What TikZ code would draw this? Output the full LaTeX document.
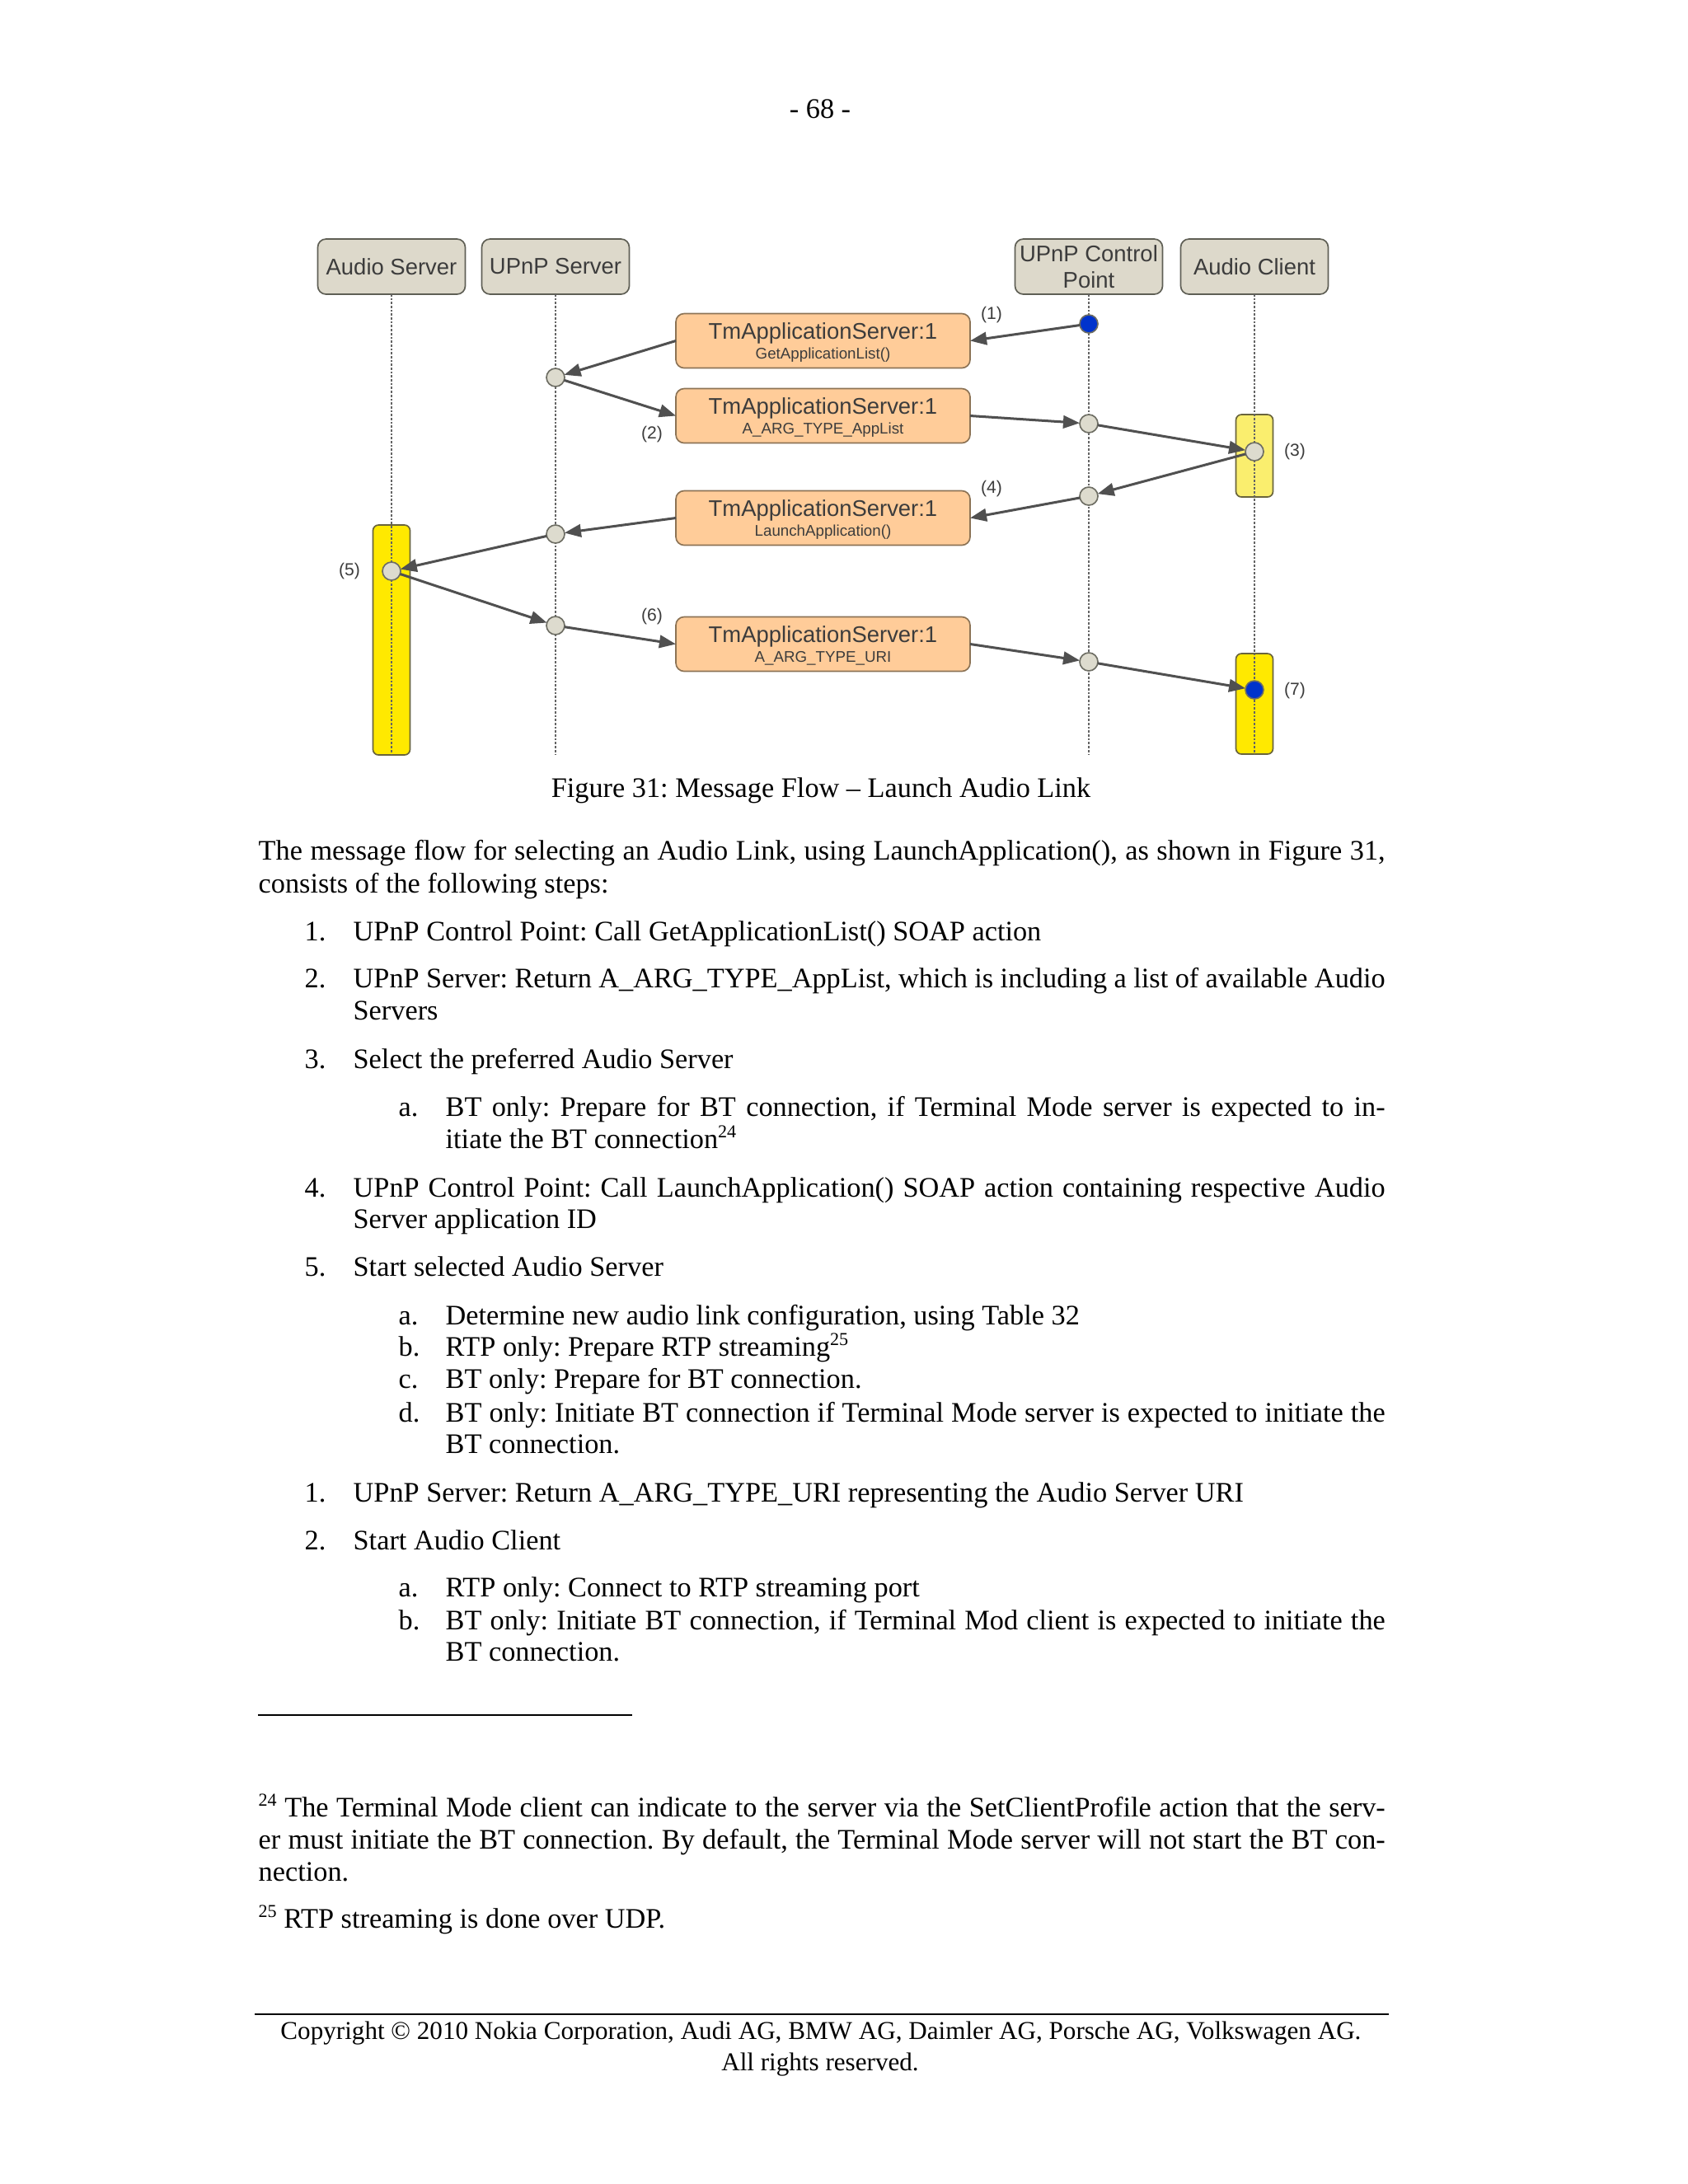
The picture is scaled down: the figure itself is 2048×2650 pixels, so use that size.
\documentclass[tikz,border=0pt]{standalone}
\usepackage{fontspec}
\setmainfont{Liberation Serif}
\newfontfamily\diagfont{Liberation Sans}
\usetikzlibrary{arrows.meta,calc}
\newlength\pxu
\setlength\pxu{0.298828pt}
\newcommand{\fnsup}[1]{\raisebox{0.36em}{\fontsize{6.6}{7}\selectfont #1}}
\definecolor{hdrfill}{RGB}{221,217,203}
\definecolor{hdrdraw}{RGB}{95,95,85}
\definecolor{orfill}{RGB}{255,204,153}
\definecolor{ordraw}{RGB}{140,115,85}
\definecolor{dtext}{RGB}{60,60,60}
\definecolor{arrowc}{RGB}{80,80,80}
\definecolor{circfill}{RGB}{221,219,206}
\definecolor{circdraw}{RGB}{110,110,100}
\definecolor{yelA}{RGB}{255,233,0}
\definecolor{yelB}{RGB}{250,238,110}
\definecolor{actdraw}{RGB}{105,100,60}
\definecolor{bluedot}{RGB}{0,51,204}
\definecolor{lifec}{RGB}{100,100,100}
\tikzset{
  hdr/.style={draw=hdrdraw, fill=hdrfill, rounded corners=3pt, line width=0.5pt,
    minimum width=179\pxu, minimum height=67\pxu, inner sep=0pt, outer sep=0pt,
    align=center, text=dtext, font=\diagfont\fontsize{8.2}{9.6}\selectfont},
  obox/.style={draw=ordraw, fill=orfill, rounded corners=3pt, line width=0.5pt,
    minimum width=357\pxu, minimum height=66\pxu, inner sep=0pt, outer sep=0pt},
  mtxt/.style={anchor=base, inner sep=0pt, text=dtext, font=\diagfont\fontsize{8.2}{9.6}\selectfont},
  stxt/.style={anchor=base, inner sep=0pt, text=dtext, font=\diagfont\fontsize{5.6}{6.5}\selectfont},
  numlbl/.style={inner sep=0pt, text=dtext, font=\diagfont\fontsize{6.3}{7}\selectfont},
  actbar/.style={draw=actdraw, rounded corners=2pt, line width=0.5pt,
    minimum width=45\pxu, inner sep=0pt, outer sep=0pt},
  lifeline/.style={draw=lifec, line width=0.4pt, dash pattern=on 0.8pt off 0.6pt},
  gcirc/.style={circle, draw=circdraw, fill=circfill, line width=0.5pt,
    minimum size=22\pxu, inner sep=0pt, outer sep=0pt},
  bcirc/.style={circle, draw=circdraw, fill=bluedot, line width=0.5pt,
    minimum size=22\pxu, inner sep=0pt, outer sep=0pt},
  msg/.style={draw=arrowc, line width=0.9pt, -{Triangle[length=6pt,width=4.6pt]}},
  btxt/.style={anchor=base west, inner sep=0pt, font=\fontsize{10.25}{11.8}\selectfont\frenchspacing},
  ctxt/.style={anchor=base, inner sep=0pt, font=\fontsize{10.25}{11.8}\selectfont\frenchspacing},
  foottxt/.style={anchor=base, inner sep=0pt, font=\fontsize{9.3}{11}\selectfont\frenchspacing}
}
\begin{document}
\begin{tikzpicture}[x=0.298828pt,y=-0.298828pt]
\path[use as bounding box, fill=white] (0,0) rectangle (2048,2650);

% page number
\node[ctxt] (pnum) at (995,143) {- 68 -};

% headers
\node[hdr] (h1) at (475,323.5) {Audio Server};
\node[hdr] (h2) at (674,323.5) {UPnP Server};
\node[hdr] (h3) at (1321,323.5) {UPnP Control\\Point};
\node[hdr] (h4) at (1522,323.5) {Audio Client};
\coordinate (bot) at (0,915);

% activation bars
\node[actbar, fill=yelA, minimum height=279\pxu] (act1) at (475,776.5) {};
\node[actbar, fill=yelB, minimum height=100\pxu] (act2) at (1522,553) {};
\node[actbar, fill=yelA, minimum height=122\pxu] (act3) at (1522,854) {};

% lifelines
\draw[lifeline] (h1.south) -- (h1.south |- bot);
\draw[lifeline] (h2.south) -- (h2.south |- bot);
\draw[lifeline] (h3.south) -- (h3.south |- bot);
\draw[lifeline] (h4.south) -- (h4.south |- bot);

% circles
\node[bcirc] (d1) at (1321,393) {};
\node[gcirc] (u1) at (674,458) {};
\node[gcirc] (c1) at (1321,514) {};
\node[gcirc] (a1) at (1522,548) {};
\node[gcirc] (c2) at (1321,602) {};
\node[gcirc] (u2) at (674,648) {};
\node[gcirc] (s1) at (475,693) {};
\node[gcirc] (u3) at (674,759) {};
\node[gcirc] (c3) at (1321,803) {};
\node[bcirc] (a2) at (1522,837) {};

% message boxes
\node[obox] (m1) at (998.5,413.5) {};
\node[mtxt] (m1t) at ($(m1.center)+(0,-2)$) {TmApplicationServer:1};
\node[stxt] (m1s) at ($(m1.center)+(0,22)$) {GetApplicationList()};
\node[obox] (m2) at (998.5,504.5) {};
\node[mtxt] (m2t) at ($(m2.center)+(0,-2)$) {TmApplicationServer:1};
\node[stxt] (m2s) at ($(m2.center)+(0,22)$) {A\_ARG\_TYPE\_AppList};
\node[obox] (m3) at (998.5,628.5) {};
\node[mtxt] (m3t) at ($(m3.center)+(0,-2)$) {TmApplicationServer:1};
\node[stxt] (m3s) at ($(m3.center)+(0,22)$) {LaunchApplication()};
\node[obox] (m4) at (998.5,781.5) {};
\node[mtxt] (m4t) at ($(m4.center)+(0,-2)$) {TmApplicationServer:1};
\node[stxt] (m4s) at ($(m4.center)+(0,22)$) {A\_ARG\_TYPE\_URI};

% messages
\draw[msg] (d1) -- (m1.east);
\draw[msg] (m1.west) -- (u1);
\draw[msg] (u1) -- (m2.west);
\draw[msg] (m2.east) -- (c1);
\draw[msg] (c1) -- (a1);
\draw[msg] (a1) -- (c2);
\draw[msg] (c2) -- (m3.east);
\draw[msg] (m3.west) -- (u2);
\draw[msg] (u2) -- (s1);
\draw[msg] (s1) -- (u3);
\draw[msg] (u3) -- (m4.west);
\draw[msg] (m4.east) -- (c3);
\draw[msg] (c3) -- (a2);

% step labels
\node[numlbl] (l1) at (1203,382) {(1)};
\node[numlbl] (l2) at (791,527) {(2)};
\node[numlbl] (l3) at (1571,548) {(3)};
\node[numlbl] (l4) at (1203,593) {(4)};
\node[numlbl] (l5) at (424,693) {(5)};
\node[numlbl] (l6) at (791,748) {(6)};
\node[numlbl] (l7) at (1571,838) {(7)};

% caption
\node[ctxt] (cap) at (996,967) {Figure 31: Message Flow -- Launch Audio Link};

% body text
\node[btxt] (p1) at (313,1043) {\makebox[1367\pxu][s]{The message flow for selecting an Audio Link, using LaunchApplication(), as shown in Figure 31,}};
\node[btxt] (p2) at (313,1083) {consists of the following steps:};

\node[btxt] (n1) at (369,1141) {1.};
\node[btxt] (t1) at (428,1141) {UPnP Control Point: Call GetApplicationList() SOAP action};
\node[btxt] (n2) at (369,1198) {2.};
\node[btxt] (t2) at (428,1198) {\makebox[1252\pxu][s]{UPnP Server: Return A\_ARG\_TYPE\_AppList, which is including a list of available Audio}};
\node[btxt] (t2b) at (428,1237) {Servers};
\node[btxt] (n3) at (369,1296) {3.};
\node[btxt] (t3) at (428,1296) {Select the preferred Audio Server};
\node[btxt] (n3a) at (483,1354) {a.};
\node[btxt] (t3a) at (540,1354) {\makebox[1140\pxu][s]{BT only: Prepare for BT connection, if Terminal Mode server is expected to in-}};
\node[btxt] (t3ab) at (540,1393) {itiate the BT connection\fnsup{24}};
\node[btxt] (n4) at (369,1452) {4.};
\node[btxt] (t4) at (428,1452) {\makebox[1252\pxu][s]{UPnP Control Point: Call LaunchApplication() SOAP action containing respective Audio}};
\node[btxt] (t4b) at (428,1490) {Server application ID};
\node[btxt] (n5) at (369,1548) {5.};
\node[btxt] (t5) at (428,1548) {Start selected Audio Server};
\node[btxt] (n5a) at (483,1607) {a.};
\node[btxt] (t5a) at (540,1607) {Determine new audio link configuration, using Table 32};
\node[btxt] (n5b) at (483,1645) {b.};
\node[btxt] (t5b) at (540,1645) {RTP only: Prepare RTP streaming\fnsup{25}};
\node[btxt] (n5c) at (483,1684) {c.};
\node[btxt] (t5c) at (540,1684) {BT only: Prepare for BT connection.};
\node[btxt] (n5d) at (483,1725) {d.};
\node[btxt] (t5d) at (540,1725) {\makebox[1140\pxu][s]{BT only: Initiate BT connection if Terminal Mode server is expected to initiate the}};
\node[btxt] (t5db) at (540,1763) {BT connection.};
\node[btxt] (n6) at (369,1822) {1.};
\node[btxt] (t6) at (428,1822) {UPnP Server: Return A\_ARG\_TYPE\_URI representing the Audio Server URI};
\node[btxt] (n7) at (369,1880) {2.};
\node[btxt] (t7) at (428,1880) {Start Audio Client};
\node[btxt] (n7a) at (483,1937) {a.};
\node[btxt] (t7a) at (540,1937) {RTP only: Connect to RTP streaming port};
\node[btxt] (n7b) at (483,1977) {b.};
\node[btxt] (t7b) at (540,1977) {\makebox[1140\pxu][s]{BT only: Initiate BT connection, if Terminal Mod client is expected to initiate the}};
\node[btxt] (t7bb) at (540,2015) {BT connection.};

% footnote rule
\coordinate (fr1) at (313,2081);
\coordinate (fr2) at (767,2081);
\draw[line width=0.7pt] (fr1) -- (fr2);

% footnotes
\node[btxt] (f1) at (313,2204) {\makebox[1367\pxu][s]{\fnsup{24} The Terminal Mode client can indicate to the server via the SetClientProfile action that the serv-}};
\node[btxt] (f1b) at (313,2243) {\makebox[1367\pxu][s]{er must initiate the BT connection. By default, the Terminal Mode server will not start the BT con-}};
\node[btxt] (f1c) at (313,2282) {nection.};
\node[btxt] (f2) at (313,2339) {\fnsup{25} RTP streaming is done over UDP.};

% footer
\coordinate (ft1) at (309,2444);
\coordinate (ft2) at (1685,2444);
\draw[line width=0.8pt] (ft1) -- (ft2);
\node[foottxt] (cp1) at (996,2474) {Copyright © 2010 Nokia Corporation, Audi AG, BMW AG, Daimler AG, Porsche AG, Volkswagen AG.};
\node[foottxt] (cp2) at (995,2512) {All rights reserved.};
\end{tikzpicture}
\end{document}
